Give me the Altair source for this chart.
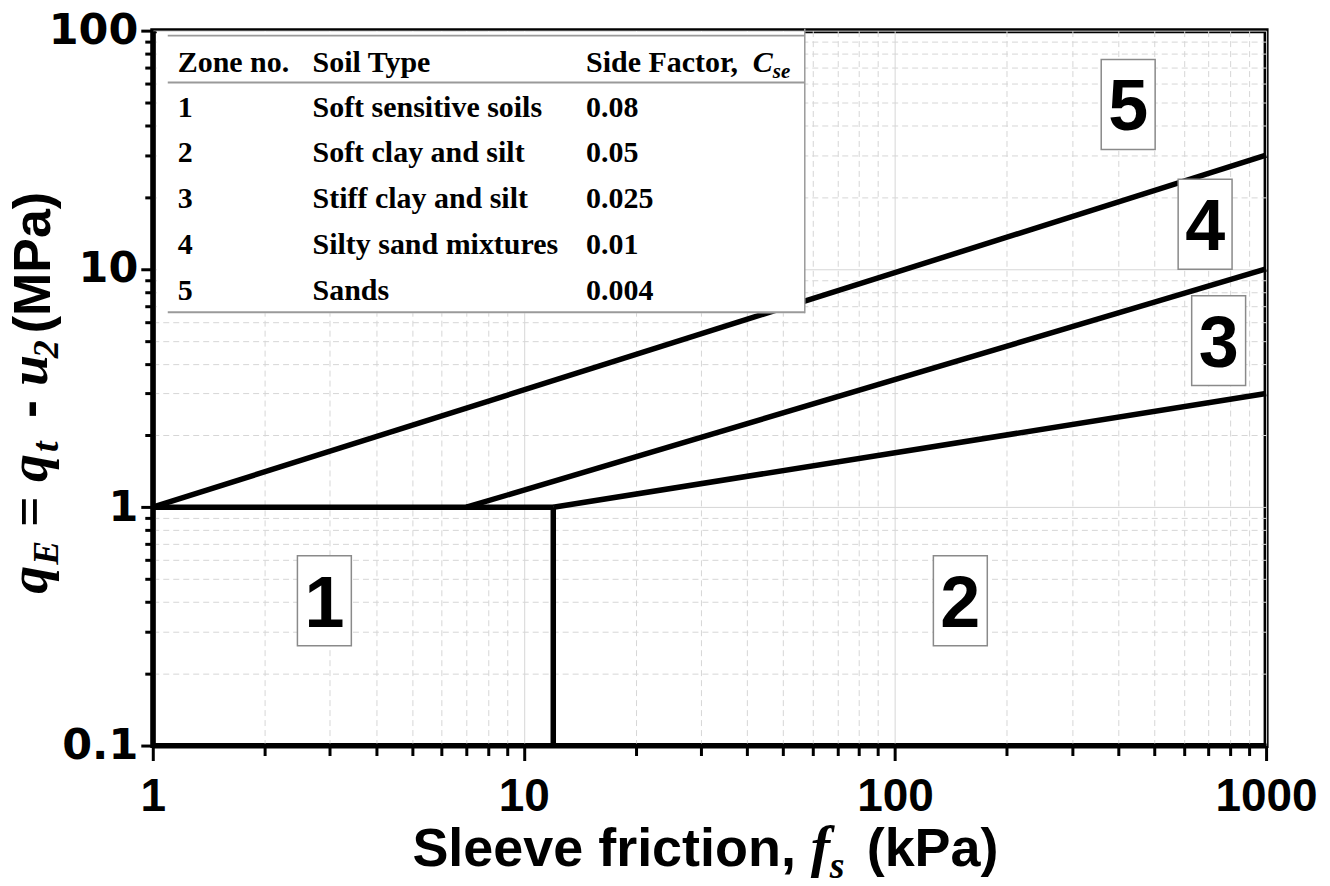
import altair as alt
import pandas as pd

# ---------------- data ----------------
x_label_ticks = [1, 10, 100, 1000]
y_label_ticks = [0.1, 1, 10, 100]

boundary_id = ["4/5", "4/5", "3/4", "3/4", "2/3", "2/3", "1/top", "1/top", "1/2", "1/2"]
boundary_fs = [1, 1000, 7, 1000, 12, 1000, 1, 12, 12, 12]
boundary_qe = [1, 30, 1, 10, 1, 3, 1, 1, 0.1, 1]

zone_no = ["1", "2", "3", "4", "5"]
zone_label_fs = [2.9, 150, 745, 685, 425]
zone_label_qe = [0.405, 0.405, 5.0, 15.4, 49]

soil_type = ["Soft sensitive soils", "Soft clay and silt", "Stiff clay and silt",
             "Silty sand mixtures", "Sands"]
side_factor = ["0.08", "0.05", "0.025", "0.01", "0.004"]

# ---------------- layout ----------------
X0, Y0 = 153, 30          # plot origin on the page
W, H = 1115, 716

x_axis_vals = sorted({round(m * d, 6) for d in [1, 10, 100] for m in range(1, 10)} | {1000})
y_axis_vals = sorted({round(m * d, 6) for d in [0.1, 1, 10] for m in range(1, 10)} | {100})

minor_test_x = "indexof([1,10,100,1000], datum.value) < 0"
minor_test_y = "indexof([0.1,1,10,100], datum.value) < 0"

SANS = "Liberation Sans"
SERIF = "Liberation Serif"

x_axis = alt.Axis(
    values=x_axis_vals, format="~g",
    labelExpr="indexof([1,10,100,1000], datum.value) >= 0 ? datum.label : ''",
    title=None, labelFont=SANS, labelFontWeight="bold", labelFontSize=46,
    labelColor="black", labelPadding=14, labelFlush=False, labelOverlap=False,
    tickColor="black", tickWidth=3,
    tickSize={"condition": {"test": minor_test_x, "value": 10}, "value": 15},
    domainColor="black", domainWidth=5,
    grid=True, gridColor="#d6d6d6", gridWidth=1,
    gridDash={"condition": {"test": minor_test_x, "value": [6, 4]}, "value": []},
)
y_axis = alt.Axis(
    values=y_axis_vals, format="~g",
    labelExpr="indexof([0.1,1,10,100], datum.value) >= 0 ? datum.label : ''",
    title=None, labelFont="DejaVu Sans", labelFontWeight="bold", labelFontSize=43,
    labelColor="black", labelPadding=3, labelFlush=False, labelOverlap=False,
    tickColor="black", tickWidth=3,
    tickSize={"condition": {"test": minor_test_y, "value": 8}, "value": 12},
    domainColor="black", domainWidth=5,
    grid=True, gridColor="#d6d6d6", gridWidth=1,
    gridDash={"condition": {"test": minor_test_y, "value": [6, 4]}, "value": []},
)
x_scale = alt.Scale(type="log", domain=[1, 1000], nice=False)
y_scale = alt.Scale(type="log", domain=[0.1, 100], nice=False)
x_enc = alt.X("fs:Q", scale=x_scale, axis=x_axis)
y_enc = alt.Y("qe:Q", scale=y_scale, axis=y_axis)

# ---------------- main layers ----------------
bound_df = pd.DataFrame({"seg": boundary_id, "fs": boundary_fs, "qe": boundary_qe})
lines = alt.Chart(bound_df).mark_line(color="black", strokeWidth=5.5, strokeCap="butt").encode(
    x=x_enc, y=y_enc, detail="seg:N"
)

zone_df = pd.DataFrame({"zone": zone_no, "fs": zone_label_fs, "qe": zone_label_qe})
zone_box = alt.Chart(zone_df).mark_point(
    shape="M-0.6,-1L0.6,-1L0.6,1L-0.6,1Z", size=8100, filled=True,
    fill="white", stroke="#8a8a8a", strokeWidth=1.5, opacity=1, fillOpacity=1, strokeOpacity=1
).encode(x=x_enc, y=y_enc)
zone_txt = alt.Chart(zone_df).mark_text(
    font=SANS, fontWeight="bold", fontSize=72, color="black", baseline="alphabetic", dy=26
).encode(x=x_enc, y=y_enc, text="zone:N")


# ---------------- annotation helpers ----------------
def txt(text, px, py, **kw):
    base = dict(color="black", align="left", baseline="alphabetic")
    base.update(kw)
    return alt.Chart(pd.DataFrame({"t": [text]})).mark_text(**base).encode(
        text="t:N", x=alt.value(px - X0), y=alt.value(py - Y0)
    )


def hrule(x1, x2, y, color="#9a9a9a", w=2):
    return alt.Chart(pd.DataFrame({"a": [0]})).mark_rule(color=color, strokeWidth=w).encode(
        x=alt.value(x1 - X0), x2=alt.value(x2 - X0), y=alt.value(y - Y0)
    )


def vrule(x, y1, y2, color="#9a9a9a", w=1.5):
    return alt.Chart(pd.DataFrame({"a": [0]})).mark_rule(color=color, strokeWidth=w).encode(
        x=alt.value(x - X0), y=alt.value(y1 - Y0), y2=alt.value(y2 - Y0)
    )


# ---------------- table ----------------
layers = [lines, zone_box, zone_txt]

table_bg = alt.Chart(pd.DataFrame({"a": [0]})).mark_rect(fill="white").encode(
    x=alt.value(157 - X0), x2=alt.value(806 - X0), y=alt.value(30.5 - Y0), y2=alt.value(313 - Y0)
)
layers += [table_bg, hrule(168, 806, 35), hrule(168, 806, 82), hrule(168, 806, 312),
           vrule(806, 28, 313)]

TF = dict(font=SERIF, fontWeight="bold", fontSize=30)
col_x = [178, 313, 587]
layers += [
    txt("Zone no.", col_x[0], 71, **TF),
    txt("Soil Type", col_x[1], 71, **TF),
    txt("Side Factor,", col_x[2], 71, **TF),
    txt("C", 754, 71, font=SERIF, fontWeight="bold", fontStyle="italic", fontSize=30),
    txt("se", 774, 77, font=SERIF, fontWeight="bold", fontStyle="italic", fontSize=21),
]
row_y = [116, 162, 208, 254, 300]
for i in range(len(zone_no)):
    layers += [
        txt(zone_no[i], col_x[0], row_y[i], **TF),
        txt(soil_type[i], col_x[1], row_y[i], **TF),
        txt(side_factor[i], col_x[2], row_y[i], **TF),
    ]

# ---------------- axis titles ----------------
XT = dict(font=SANS, fontWeight="bold", fontSize=54)
layers += [
    txt("Sleeve friction,", 413, 867, **XT),
    txt("f", 812, 867, font=SERIF, fontWeight="bold", fontStyle="italic", fontSize=58),
    txt("s", 831, 879, font=SERIF, fontWeight="bold", fontStyle="italic", fontSize=38),
    txt("(kPa)", 868, 867, **XT),
]

MI = dict(font=SERIF, fontWeight="bold", fontStyle="italic", angle=270)
layers += [
    txt("q", 47, 594, fontSize=56, **MI),
    txt("E", 58, 565, fontSize=36, **MI),
    txt("=", 47, 527, font=SERIF, fontWeight="bold", fontSize=54, angle=270),
    txt("q", 47, 482, fontSize=56, **MI),
    txt("t", 58, 452, fontSize=38, **MI),
    txt("-", 47, 418, font=SANS, fontWeight="bold", fontSize=54, angle=270),
    txt("u", 47, 386, fontSize=56, **MI),
    txt("2", 58, 358, fontSize=36, **MI),
    txt("(MPa)", 50, 333, font=SANS, fontWeight="bold", fontSize=52, angle=270),
]

chart = alt.layer(*layers).properties(
    width=W, height=H,
    autosize=alt.AutoSizeParams(type="none"),
    padding={"left": X0 - 8, "top": Y0 - 8, "right": 56, "bottom": 140},
).configure_view(stroke="black", strokeWidth=5)

chart.save("out.html", embed_options={"renderer": "svg", "actions": False})
